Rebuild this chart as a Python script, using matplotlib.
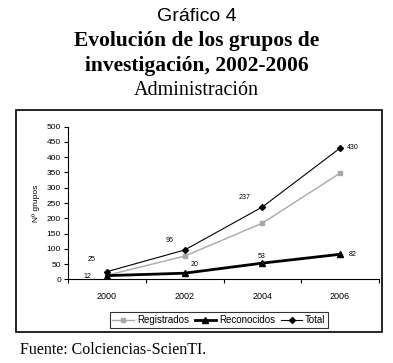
import numpy as np
import matplotlib.pyplot as plt
from matplotlib.patches import Rectangle

years = ["2000", "2002", "2004", "2006"]
registrados = [13, 76, 184, 348]
reconocidos = [12, 20, 53, 82]
total = [25, 96, 237, 430]

sans = "Liberation Sans"
serif = "Liberation Serif"

fig = plt.figure(figsize=(3.93, 3.63), dpi=100)
W, H = 393, 363

# titles
fig.text(0.5, 1 - 21 / H, "Gráfico 4", ha="center", va="baseline", family=sans, fontsize=14)
fig.text(0.5, 1 - 46 / H, "Evolución de los grupos de", ha="center", va="baseline",
         family=serif, fontsize=15.5, weight="bold")
fig.text(0.5, 1 - 71 / H, "investigación, 2002-2006", ha="center", va="baseline",
         family=serif, fontsize=15.5, weight="bold")
fig.text(0.5, 1 - 95 / H, "Administración", ha="center", va="baseline", family=serif, fontsize=14.5)
fig.text(20 / W, 1 - 354 / H, "Fuente: Colciencias-ScienTI.", ha="left", va="baseline",
         family=serif, fontsize=11.5)

# outer box
fig.patches.append(Rectangle((16 / W, 1 - 332 / H), 366 / W, 222 / H, transform=fig.transFigure,
                             fill=False, edgecolor="black", linewidth=1.2))

ax = fig.add_axes([68 / W, 1 - 279.3 / H, 311 / W, 152.6 / H])
x = np.arange(len(years))

ax.plot(x, registrados, color="#a8a8a8", lw=1, marker="s", ms=3.5, label="Registrados")
ax.plot(x, reconocidos, color="black", lw=2, marker="^", ms=4, label="Reconocidos")
ax.plot(x, total, color="black", lw=0.8, marker="D", ms=3, label="Total")

ax.set_xlim(-0.5, len(years) - 0.5)
ax.set_ylim(0, 500)
ax.set_yticks(np.arange(0, 501, 50))
ax.set_xticks(np.arange(-0.5, len(years), 1))
ax.set_xticklabels([])
ax.set_xticks(x, minor=True)
ax.set_xticklabels(years, minor=True, family=sans, fontsize=6.5)
ax.tick_params(axis="x", which="minor", length=0, pad=9)
ax.tick_params(axis="x", which="major", length=3, width=0.8, direction="out")
ax.tick_params(axis="y", length=3, width=0.8, labelsize=6, pad=2)
for lab in ax.get_yticklabels():
    lab.set_family(sans)
for s in ["top", "right"]:
    ax.spines[s].set_visible(False)
ax.spines["left"].set_linewidth(0.8)
ax.spines["bottom"].set_linewidth(0.8)
ax.set_ylabel("Nº grupos", family=sans, fontsize=6, labelpad=5)

# data labels
ax.annotate(str(total[0]), (x[0], total[0]), xytext=(-14, 8), textcoords="offset points", fontsize=5, family=sans)
ax.annotate(str(total[1]), (x[1], total[1]), xytext=(-14, 6), textcoords="offset points", fontsize=5, family=sans)
ax.annotate(str(total[2]), (x[2], total[2]), xytext=(-17, 6), textcoords="offset points", fontsize=5, family=sans)
ax.annotate(str(total[3]), (x[3], total[3]), xytext=(5, -1), textcoords="offset points", fontsize=5, family=sans)
ax.annotate(str(reconocidos[0]), (x[0], reconocidos[0]), xytext=(-17, -2), textcoords="offset points", fontsize=5, family=sans)
ax.annotate(str(reconocidos[1]), (x[1], reconocidos[1]), xytext=(4, 5), textcoords="offset points", fontsize=5, family=sans)
ax.annotate(str(reconocidos[2]), (x[2], reconocidos[2]), xytext=(-3, 4), textcoords="offset points", fontsize=5, family=sans)
ax.annotate(str(reconocidos[3]), (x[3], reconocidos[3]), xytext=(6, -1), textcoords="offset points", fontsize=5, family=sans)

leg = fig.legend(loc="center", bbox_to_anchor=(219 / W, 1 - 320 / H), ncol=3, frameon=True,
                 fancybox=False, edgecolor="black", prop={"family": sans, "size": 7},
                 handlelength=2.2, handletextpad=0.3, columnspacing=0.6, borderpad=0.3)
leg.get_frame().set_linewidth(0.8)

fig.savefig("out.png", dpi=100)
